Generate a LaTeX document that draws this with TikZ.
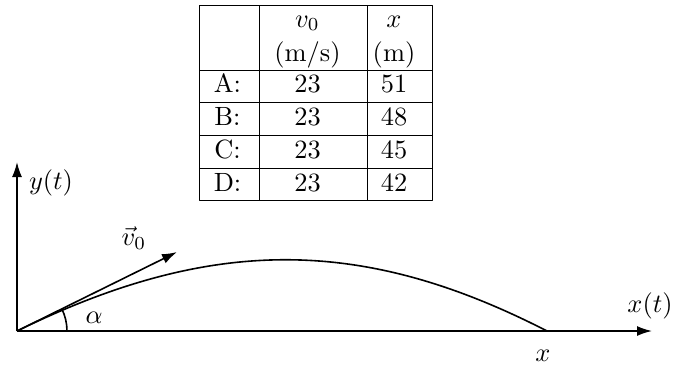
\documentclass[tikz,border=0pt]{standalone}
\usepackage{amsmath}
\usepackage{tikz}
\usetikzlibrary{arrows.meta}
\tikzset{cell/.style={anchor=base,inner sep=0pt},axis/.style={thick,->}}

\begin{document}
\begin{tikzpicture}[x=0.5pt,y=-0.5pt,every node/.style={scale=1.32},>={Latex[length=7.5pt,width=5pt]},line join=round]
\useasboundingbox (0,0) rectangle (673,366);
% --- table of shots
\draw (199,5) rectangle (432,200);
\foreach \yy in {70,102,135,168} \draw (199,\yy) -- (432,\yy);
\draw (259,5) -- (259,200); \draw (367,5) -- (367,200);
\node[cell] (hv) at (307.5,27) {$v_0$}; \node[cell] (hvu) at (307.5,61) {(m/s)};
\node[cell] (hx) at (394,27) {$x$}; \node[cell] (hxu) at (394,61) {(m)};
\foreach \lab/\vv/\dd [count=\i] in {A/23/51,B/23/48,C/23/45,D/23/42}{
  \node[cell] (lab\i) at (227.5,{70+33*(\i-1)+22}) {\lab:};
  \node[cell] (v\i) at (307.5,{70+33*(\i-1)+22}) {\vv};
  \node[cell] (d\i) at (394,{70+33*(\i-1)+22}) {\dd};
}
% --- axes and throw
\coordinate (O) at (17,331);
\coordinate (ytop) at (17,162); \coordinate (xend) at (652,331);
\coordinate (vtip) at (177,252); \coordinate (hit) at (547,331);
\draw[axis] (O) -- (ytop);
\draw[axis] (O) -- (xend);
\draw[axis] (O) -- (vtip);
\draw[thick] (O) .. controls (211,236) and (362,236) .. (hit); % trajectory
\draw[thick] (67,331) arc[start angle=0,end angle=-26.3,radius=50];
\node (ylab) at (51,183) {$y(t)$};
\node (vlab) at (134,238) {$\vec{v}_0$};
\node (alab) at (94,318) {$\alpha$};
\node (xtlab) at (650,306) {$x(t)$};
\node (xlab) at (543,356) {$x$};
\end{tikzpicture}
\end{document}
